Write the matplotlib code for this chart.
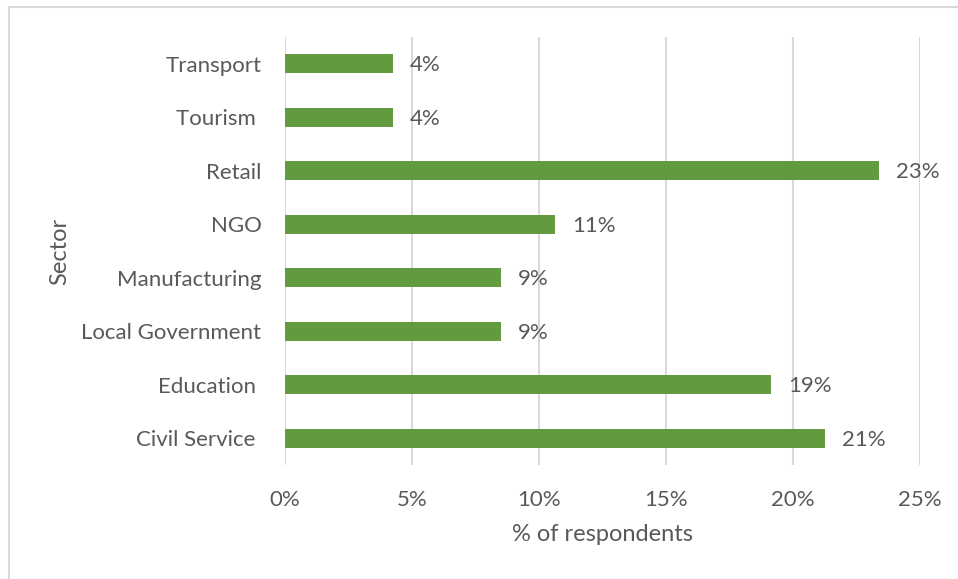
import numpy as np
import matplotlib
matplotlib.use('Agg')
from matplotlib import pyplot as plt
from matplotlib import ticker
from matplotlib.patches import Rectangle

plt.rcParams['font.family'] = ['Lato', 'DejaVu Sans']

# survey counts by sector (47 respondents in total)
sectors = ['Civil Service ', 'Education ', 'Local Government', 'Manufacturing',
           'NGO', 'Retail', 'Tourism ', 'Transport']
counts = [10, 9, 4, 4, 5, 11, 2, 2]
total = 47
shares = [c / total for c in counts]

TXT = '#595959'
BAR = '#629B3F'
GRID = '#D9D9D9'

fig = plt.figure(figsize=(9.58, 5.79), dpi=100)
fig.patches.append(Rectangle((9 / 958, -0.1), 1.2, 1 - 7 / 579 + 0.1,
                             transform=fig.transFigure, fill=False,
                             edgecolor=GRID, linewidth=1.5))

ax = fig.add_axes([285 / 958, 1 - 465 / 579, (919.7 - 285) / 958, 428 / 579])
y = np.arange(len(sectors))
ax.barh(y, shares, height=0.36, color=BAR, zorder=3)

for yi, s in zip(y, shares):
    ax.annotate(f'{s:.0%}', (s, yi), xytext=(12, -1), textcoords='offset points',
                ha='left', va='center', fontsize=16, color=TXT)

ax.set_xlim(0, 0.25)
ax.set_ylim(-0.5, len(sectors) - 0.5)
ax.xaxis.set_major_locator(ticker.MultipleLocator(0.05))
ax.xaxis.set_major_formatter(ticker.PercentFormatter(1.0, decimals=0))
ax.set_yticks(y)
ax.set_yticklabels(sectors)
ax.grid(axis='x', color=GRID, linewidth=1.5, zorder=0)
for sp in ax.spines.values():
    sp.set_visible(False)
ax.tick_params(length=0, labelsize=16, labelcolor=TXT)
ax.tick_params(axis='x', pad=18)
ax.tick_params(axis='y', pad=17)
ax.set_xlabel('% of respondents', fontsize=17, color=TXT, labelpad=10)
ax.set_ylabel('Sector', fontsize=17, color=TXT, labelpad=8)

fig.savefig('out.png', dpi=100)
